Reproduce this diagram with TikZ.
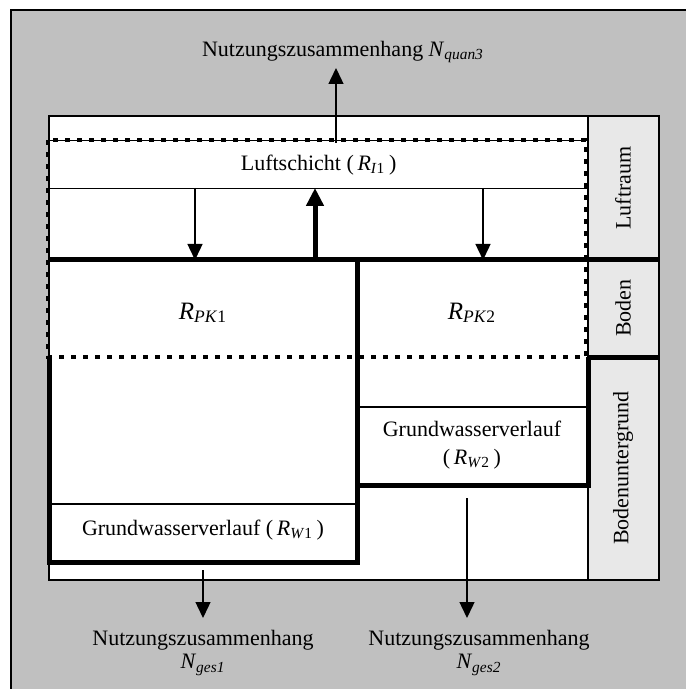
\documentclass[tikz,border=0pt]{standalone}
\usepackage{fontspec}
\setmainfont{Liberation Serif}
\usetikzlibrary{arrows.meta}
\definecolor{framegray}{RGB}{192,192,192}
\definecolor{colgray}{RGB}{232,232,232}
% italic symbol with a subscript whose letters are italic and digit upright
\newcommand{\symb}[3]{\textit{#1}\textsubscript{\textit{#2}#3}}
\begin{document}
\begin{tikzpicture}[x=0.5pt,y=-0.5pt,
  thinline/.style={line width=0.6pt},
  thickline/.style={line width=2.5pt,line join=miter},
  dotline/.style={line width=2.3pt,dash pattern=on 2.6pt off 3.4pt},
  flow/.style={line width=0.7pt,-{Triangle[length=8pt,width=7.5pt]}},
  boldflow/.style={line width=2.5pt,-{Triangle[length=9pt,width=8.5pt]}},
  lbl/.style={font=\fontsize{11}{13}\selectfont,inner sep=0pt,align=center},
  symlbl/.style={lbl,font=\fontsize{12.5}{14}\selectfont},
]
\useasboundingbox (0,0) rectangle (685,689);

% outer gray frame
\fill[framegray] (11,10) rectangle (700,700);
\draw[thinline] (700,10) -- (11,10) -- (11,700);

% white main area and the layer column
\draw[thinline,fill=white] (49,116) rectangle (659,580);
\draw[thinline,fill=colgray] (588,116) rectangle (659,580);

% air layer box
\node[draw,thinline,lbl,minimum width=269pt,minimum height=24pt,anchor=north west]
  (luft) at (49,140) {Luftschicht (\,\symb{R}{I}{1}\,)};

% thin separators of the groundwater boxes
\draw[thinline] (49,504) -- (357,504);
\draw[thinline] (357,407) -- (588,407);

% thick boundaries
\draw[thickline] (49,260) -- (659,260);
\draw[thickline] (588,357) -- (659,357);
\draw[thickline] (49,357) -- (49,562) -- (357,562) -- (357,260);
\draw[thickline] (357,485) -- (588,485) -- (588,357);

% dotted region
\draw[dotline] (48,140) rectangle (586,357);

% texts inside
\node[symlbl] (rpk1) at (203,313) {\symb{R}{PK}{1}};
\node[symlbl] (rpk2) at (472,313) {\symb{R}{PK}{2}};
\node[lbl] (rw1) at (203,530) {Grundwasserverlauf (\,\symb{R}{W}{1}\,)};
\node[lbl] (rw2) at (472,445) {Grundwasserverlauf\\[0.6pt](\,\symb{R}{W}{2}\,)};

% layer column labels
\node[lbl,rotate=90] (lraum) at (623,188) {Luftraum};
\node[lbl,rotate=90] (boden) at (623,308) {Boden};
\node[lbl,rotate=90] (bunter) at (623,468) {Bodenuntergrund};

% outer labels
\node[lbl] (nquan) at (343,52) {Nutzungszusammenhang \textit{N}\textsubscript{\textit{quan3}}};
\node[lbl,font=\fontsize{11}{11.5}\selectfont] (nges1) at (203,653) {Nutzungszusammenhang\\\textit{N}\textsubscript{\textit{ges1}}};
\node[lbl,font=\fontsize{11}{11.5}\selectfont] (nges2) at (479,653) {Nutzungszusammenhang\\\textit{N}\textsubscript{\textit{ges2}}};

% arrow end points
\coordinate (qa) at (336,143);
\coordinate (qb) at (336,68);
\coordinate (d1a) at (195,188);
\coordinate (d1b) at (195,260);
\coordinate (d2a) at (483,188);
\coordinate (d2b) at (483,260);
\coordinate (ua) at (315,260);
\coordinate (ub) at (315,188);
\coordinate (g1a) at (203,570);
\coordinate (g1b) at (203,618);
\coordinate (g2a) at (467,498);
\coordinate (g2b) at (467,618);

% flows
\draw[flow] (qa) -- (qb);
\draw[flow] (d1a) -- (d1b);
\draw[flow] (d2a) -- (d2b);
\draw[boldflow] (ua) -- (ub);
\draw[flow] (g1a) -- (g1b);
\draw[flow] (g2a) -- (g2b);
\end{tikzpicture}
\end{document}
